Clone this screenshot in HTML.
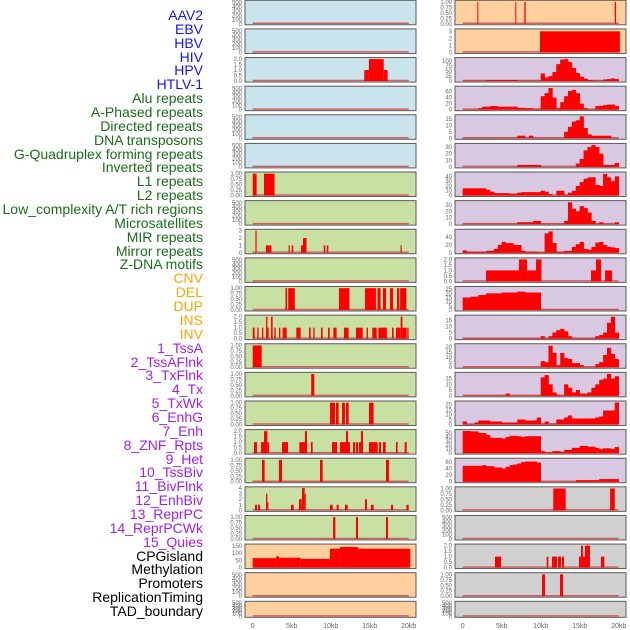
<!DOCTYPE html>
<html><head><meta charset="utf-8">
<style>
body{margin:0;background:#fff;width:630px;height:630px;overflow:hidden;font-family:"Liberation Sans",sans-serif}
#labels{position:absolute;left:0;top:0;width:203px;height:630px}
#labels div{position:absolute;right:0;font-size:14px;line-height:14px;white-space:nowrap}
svg{position:absolute;left:0;top:0}
</style></head><body>
<div id="labels"></div>
<svg id="chart" width="630" height="630"></svg>
<script>
// ---- data (kb segments [start,end,value] or 0.5kb bins) ----
const trackNames = ["AAV2","EBV","HBV","HIV","HPV","HTLV-1","Alu repeats","A-Phased repeats","Directed repeats","DNA transposons","G-Quadruplex forming repeats","Inverted repeats","L1 repeats","L2 repeats","Low_complexity A/T rich regions","Microsatellites","MIR repeats","Mirror repeats","Z-DNA motifs","CNV","DEL","DUP","INS","INV","1_TssA","2_TssAFlnk","3_TxFlnk","4_Tx","5_TxWk","6_EnhG","7_Enh","8_ZNF_Rpts","9_Het","10_TssBiv","11_BivFlnk","12_EnhBiv","13_ReprPC","14_ReprPCWk","15_Quies","CPGisland","Methylation","Promoters","ReplicationTiming","TAD_boundary"];
const xTickLabels = ["0","5kb","10kb","15kb","20kb"];
const xTickValues = [0,5,10,15,20];

const L2segs = [[14.3,14.9,1],[14.9,16.8,2],[16.8,17.3,1]];
const L6segs = [[0,0.5,1],[1.45,2.8,1]];
const L8segs = [[0.35,0.5,3],[1.7,2.4,1],[4.6,4.75,1],[5.0,5.2,1],[6.2,6.45,1],[6.45,6.9,2],[9.1,9.3,1],[9.5,9.7,1],[18.95,19.1,1]];
const L10segs = [[4.2,4.4,1],[4.55,5.4,1],[11.06,12.4,1],[14.4,15.8,1],[16.0,16.4,1],[16.7,17.1,1],[17.6,18.0,1],[18.5,18.8,1],[18.9,19.7,1]];
const L11segs = [[0,0.25,1],[0.59,0.76,1],[1.19,1.36,1],[1.71,1.88,2],[1.88,2.05,1],[2.35,2.56,2],[2.77,2.95,1],[3.37,3.54,1],[3.84,4.36,1],[5.59,6.15,1],[7.22,7.43,1],[7.77,7.94,1],[8.76,8.97,1],[9.65,9.87,1],[10.34,10.76,1],[11.7,12.3,1],[13.24,14.1,1],[14.6,14.78,1],[15.33,15.9,1],[16.1,17.2,1],[17.86,18.07,1],[18.37,18.97,1],[18.97,19.2,2],[19.2,19.74,1],[19.82,19.99,1]];
const L12segs = [[0,1.15,1]];
const L13segs = [[7.5,7.9,1]];
const L14segs = [[9.91,10.55,1],[10.68,11.02,1],[11.45,11.83,1],[11.96,12.3,1],[14.91,15.5,1]];
const L15segs = [[0.17,0.55,1],[1.07,1.45,1],[1.45,1.88,2],[1.88,2.09,1],[3.76,4.53,1],[5.98,6.7,1],[6.7,6.96,2],[7.47,7.69,1],[10.17,10.81,1],[11.19,11.96,1],[11.96,12.22,2],[12.22,12.47,1],[12.86,13.12,1],[13.24,13.5,1],[13.63,13.88,1],[13.88,14.14,2],[14.91,16.02,1],[16.19,16.45,1],[16.7,17.05,1],[18.37,18.58,1],[19.48,19.74,1]];
const L16segs = [[1.19,1.53,1],[3.37,3.76,1],[8.63,8.97,1],[17.09,17.47,1]];
const L17segs = [[0.29,0.55,1],[0.68,0.94,1],[1.71,1.88,3],[1.88,1.97,1.5],[4.91,5.25,1],[5.94,6.28,2],[6.28,6.32,1],[6.32,6.66,4],[6.66,6.8,3],[9.91,10.25,1],[10.76,11.02,1],[11.83,12.18,1],[14.4,14.65,2],[15.16,15.5,1],[17.73,17.99,1],[19.7,20,1]];
const L18segs = [[10.3,10.6,1],[13.24,13.5,1],[17.09,17.35,1]];
const L19segs = [[0,3.0,65],[3.0,3.37,77],[3.37,6.15,68],[6.15,9.9,60],[9.9,11.2,130],[11.2,13.5,142],[13.5,20.2,130]];

const R0segs = [[1.88,2.0,1],[6.75,6.87,1],[7.9,8.07,1],[19.5,19.66,1]];
const R1segs = [[9.91,20.15,3]];
const R2bins = [2,2,2,2,2,2,5,5,5,5,5,5,5,5,2,2,2,2,2,2,38,18,25,45,85,108,110,95,65,40,22,12,5,3,2,2,8,10,13,10];
const R3bins = [1,1,1,1,5,10,10,12,12,10,10,10,10,10,6,6,5,5,3,3,45,55,72,40,5,25,45,62,66,55,20,5,1,1,12,13,15,17,17,12];
const R4bins = [0.3,0.3,0.3,0.3,0.3,0.3,0.3,0.3,0.3,0.3,0.3,0.3,0.3,0.3,2,2,0.3,2,0.3,0.3,0.3,0.3,0.3,0.3,0.3,0.3,5,9,13,14,17,8,3,2,2,2,2,2,0.3,0.3];
const R5bins = [0,0,0,0,0,0,0,0,0,0,0,0,0,0,3,3,3,3,3,3,0,0,0,0,0,0,0,0,0,5,12,25,30,33,30,20,3,3,3,6];
const R6bins = [15,15,15,15,15,15,12,8,5,5,5,5,4,4,6,7,7,7,7,7,10,8,3,0,10,10,2,6,10,20,28,35,38,38,22,20,45,38,30,40];
const R7bins = [0.5,0.5,0.5,0.5,0.5,0.5,0.5,0.5,0.5,0.5,0.5,0.5,0.5,0.5,3,3,3,3,5,5,0.5,0.5,0.5,0.5,0.5,0.5,5,34,24,20,28,25,18,5,0.5,3,0.5,0.5,0.5,3];
const R8bins = [6,3,3,3,3,3,5,5,10,20,28,25,25,20,20,5,3,3,3,1,1,50,55,25,3,3,5,5,15,22,28,10,8,15,26,28,20,15,14,12];
const R9segs = [[2.99,7.22,1],[7.22,8.25,2],[8.25,9.4,1],[9.4,10.1,2],[16.45,17.09,1],[17.09,17.73,2],[18.25,19.15,1]];
const R10bins = [15,15,16,16,18,18,20,20,20,20,21,21,21,21,22,22,21,21,21,21,0.3,0.3,0.3,0.3,0.3,0.3,0.3,0.3,0.3,0.3,0.3,0.3,0.3,0.3,0.3,0.3,0.3,0.3,0.3,0.3];
const R11bins = [0.3,0.3,0.3,0.3,0.3,0.3,0.3,0.3,0.3,0.3,0.3,0.3,0.3,0.3,0.3,0.3,0.3,0.3,0.3,0.3,2,0.3,2,5,7,8,6,2,0.3,0.3,0.3,0.3,0.3,0.3,2,3,5,13,18,5];
const R12bins = [0.3,0.3,0.3,0.3,0.3,0.3,0.3,0.3,0.3,0.3,0.3,0.3,0.3,0.3,0.3,0.3,0.3,0.3,0.3,0.3,6,5,21,14,2,14,9,8,4,4,2,0.3,0.3,0.3,3,5,12,19,13,8];
const R13bins = [0.3,0.3,0.3,0.3,0.3,0.3,0.3,0.3,0.3,0.3,0.3,2,0.3,0.3,0.3,0.3,0.3,0.3,0.3,0.3,16,18,10,3,1,0.3,10,7,3,5,2,2,3,7,10,14,15,19,15,17];
const R14bins = [3,0.5,0.5,2,4,4,4,3,3,3,2,2,2,2,5,5,4,4,4,7,1,3,1,1,5,5,7,9,6,6,6,6,6,6,7,8,14,14,14,22];
const R15bins = [55,55,54,54,50,50,45,38,38,38,36,40,43,43,42,40,42,42,42,42,5,2,2,5,5,3,8,8,13,13,18,18,16,16,13,10,12,12,10,15];
const R16bins = [48,48,48,48,48,50,47,47,43,43,40,45,50,52,55,60,61,61,61,58,0,0,0,0,0,0,0,0,0,5,5,5,5,5,5,8,8,8,8,8];
const R17segs = [[11.61,13.2,1],[18.9,19.5,1]];
const R19segs = [[4.14,4.91,1],[10.76,10.98,1],[11.45,12.09,1],[12.22,12.6,1],[12.73,12.99,1],[14.91,15.17,1],[15.17,15.42,2],[15.42,15.68,1],[15.68,16.32,2],[17.73,18.16,1]];
const R20segs = [[10.17,10.55,1],[12.47,12.86,1]];

// ---- layout/styles ----
const BLUE="#c9e4ec",GREEN="#c8e1a2",PEACH="#ffcf9e",PURP="#d8c8e2",GRAY="#d0d0d0";
const T500=[0,100,200,300,400,500],T1=[0,0.25,0.5,0.75,1],T2=[0,0.5,1,1.5,2];
const E={ticks:T500,max:530,fmt:0};
const leftPanels=[
 {bg:BLUE,...E},{bg:BLUE,...E},{bg:BLUE,ticks:T2,max:2.05,segs:L2segs,fmt:1},{bg:BLUE,...E},{bg:BLUE,...E},{bg:BLUE,...E},
 {bg:GREEN,ticks:T1,max:1.03,segs:L6segs,fmt:2},{bg:GREEN,...E},{bg:GREEN,ticks:[0,1,2,3],max:3.05,segs:L8segs,fmt:0},{bg:GREEN,...E},
 {bg:GREEN,ticks:T1,max:1.03,segs:L10segs,fmt:2},{bg:GREEN,ticks:T2,max:2.05,segs:L11segs,fmt:1},{bg:GREEN,ticks:T1,max:1.03,segs:L12segs,fmt:2},
 {bg:GREEN,ticks:T1,max:1.03,segs:L13segs,fmt:2},{bg:GREEN,ticks:T1,max:1.03,segs:L14segs,fmt:2},{bg:GREEN,ticks:T2,max:2.05,segs:L15segs,fmt:1},
 {bg:GREEN,ticks:T1,max:1.03,segs:L16segs,fmt:2},{bg:GREEN,ticks:[0,1,2,3,4],max:4.05,segs:L17segs,fmt:0},{bg:GREEN,ticks:T1,max:1.03,segs:L18segs,fmt:2},
 {bg:PEACH,ticks:[0,50,100,150],max:155,segs:L19segs,fmt:0},{bg:PEACH,...E},{bg:PEACH,...E}
];
const rightPanels=[
 {bg:PEACH,ticks:T1,max:1.03,segs:R0segs,fmt:2},{bg:PEACH,ticks:[0,1,2,3],max:3.2,segs:R1segs,fmt:0},
 {bg:PURP,ticks:[0,25,50,75,100],max:113,bins:R2bins,fmt:0},{bg:PURP,ticks:[0,20,40,60],max:75,bins:R3bins,fmt:0},
 {bg:PURP,ticks:[0,5,10,15],max:17.5,bins:R4bins,fmt:0},{bg:PURP,ticks:[0,10,20,30],max:34,bins:R5bins,fmt:0},
 {bg:PURP,ticks:[0,10,20,30,40],max:47,bins:R6bins,fmt:0},{bg:PURP,ticks:[0,10,20,30],max:35,bins:R7bins,fmt:0},
 {bg:PURP,ticks:[0,20,40],max:58,bins:R8bins,fmt:0},{bg:PURP,ticks:T2,max:2.05,segs:R9segs,fmt:1},
 {bg:PURP,ticks:[0,5,10,15,20,25],max:27,bins:R10bins,fmt:0},{bg:PURP,ticks:[0,5,10,15],max:18.5,bins:R11bins,fmt:0},
 {bg:PURP,ticks:[0,5,10,15,20],max:22,bins:R12bins,fmt:0},{bg:PURP,ticks:[0,5,10,15],max:19.5,bins:R13bins,fmt:0},
 {bg:PURP,ticks:[0,5,10,15,20],max:22.5,bins:R14bins,fmt:0},{bg:PURP,ticks:[0,10,20,30,40,50],max:56,bins:R15bins,fmt:0},
 {bg:PURP,ticks:[0,20,40,60],max:68,bins:R16bins,fmt:0},
 {bg:GRAY,ticks:T1,max:1.03,segs:R17segs,fmt:2},{bg:GRAY,...E},{bg:GRAY,ticks:T2,max:2.05,segs:R19segs,fmt:1},
 {bg:GRAY,ticks:T1,max:1.03,segs:R20segs,fmt:2},{bg:GRAY,...E}
];

const NS="http://www.w3.org/2000/svg";
const svg=document.getElementById('chart');
function mk(tag,attrs,parent){const e=document.createElementNS(NS,tag);for(const k in attrs)e.setAttribute(k,attrs[k]);(parent||svg).appendChild(e);return e;}
const KB=7.8;
function rowTop(i){return 0.3+28.62*i;}
function rowH(i){return i===21?16:24.5;}

function drawPanel(p,col,row){
  const px=col===0?245:455, pw=171, x0=col===0?252.7:462.7;
  const top=rowTop(row), h=rowH(row), bot=top+h-1;
  const xs=kb=>x0+kb*KB;
  const ys=v=>bot-(v/p.max)*(h-2);
  const g=mk('g',{});
  
  
  const r=mk('rect',{x:px,y:top,width:pw,height:h,fill:p.bg,stroke:'#5a5a5a','stroke-width':1},g);
  
  
  // baseline
  const bl=mk('line',{x1:xs(0),x2:xs(20),y1:bot-0.5,y2:bot-0.5,stroke:'#d06060','stroke-width':1.5},g);
  
  
  if(p.segs){for(const s of p.segs){
    const w=Math.max(1,xs(s[1])-xs(s[0]));
    const b=mk('rect',{x:xs(s[0]),y:ys(s[2]),width:w,height:bot-ys(s[2]),fill:'#ff0000'},g);
    
    
  }}
  if(p.bins){p.bins.forEach((v,i)=>{
    if(v<=0)return;
    const b=mk('rect',{x:xs(i*0.5),y:ys(v),width:0.5*KB+0.3,height:bot-ys(v),fill:'#ff0000'},g);
    
    
  });}
  for(const t of p.ticks){
    const tx=mk('text',{x:px-3,y:ys(t)+2,'font-size':6,fill:'#666','text-anchor':'end'},g);
    tx.textContent=p.fmt===2?t.toFixed(2):p.fmt===1?t.toFixed(1):String(t);
    
    
  }
}
leftPanels.forEach((p,i)=>drawPanel(p,0,i));
rightPanels.forEach((p,i)=>drawPanel(p,1,i));
[252.7,462.7].forEach(x0=>{
  xTickValues.forEach((v,i)=>{
    const t=mk('text',{x:x0+v*KB,y:628,'font-size':7,fill:'#666','text-anchor':'middle'});
    t.textContent=xTickLabels[i];
    
    
  });
});
// labels
const lab=document.getElementById('labels');
trackNames.forEach((n,i)=>{
  const d=document.createElement('div');
  d.textContent=n;
  d.style.top=(15+i*13.86-7)+'px';
  d.style.color=i<6?'#1515ee':i<19?'#1a6e1a':i<24?'#ffa500':i<39?'#a020f0':'#000';
  
  
  lab.appendChild(d);
});
</script>
</body></html>
